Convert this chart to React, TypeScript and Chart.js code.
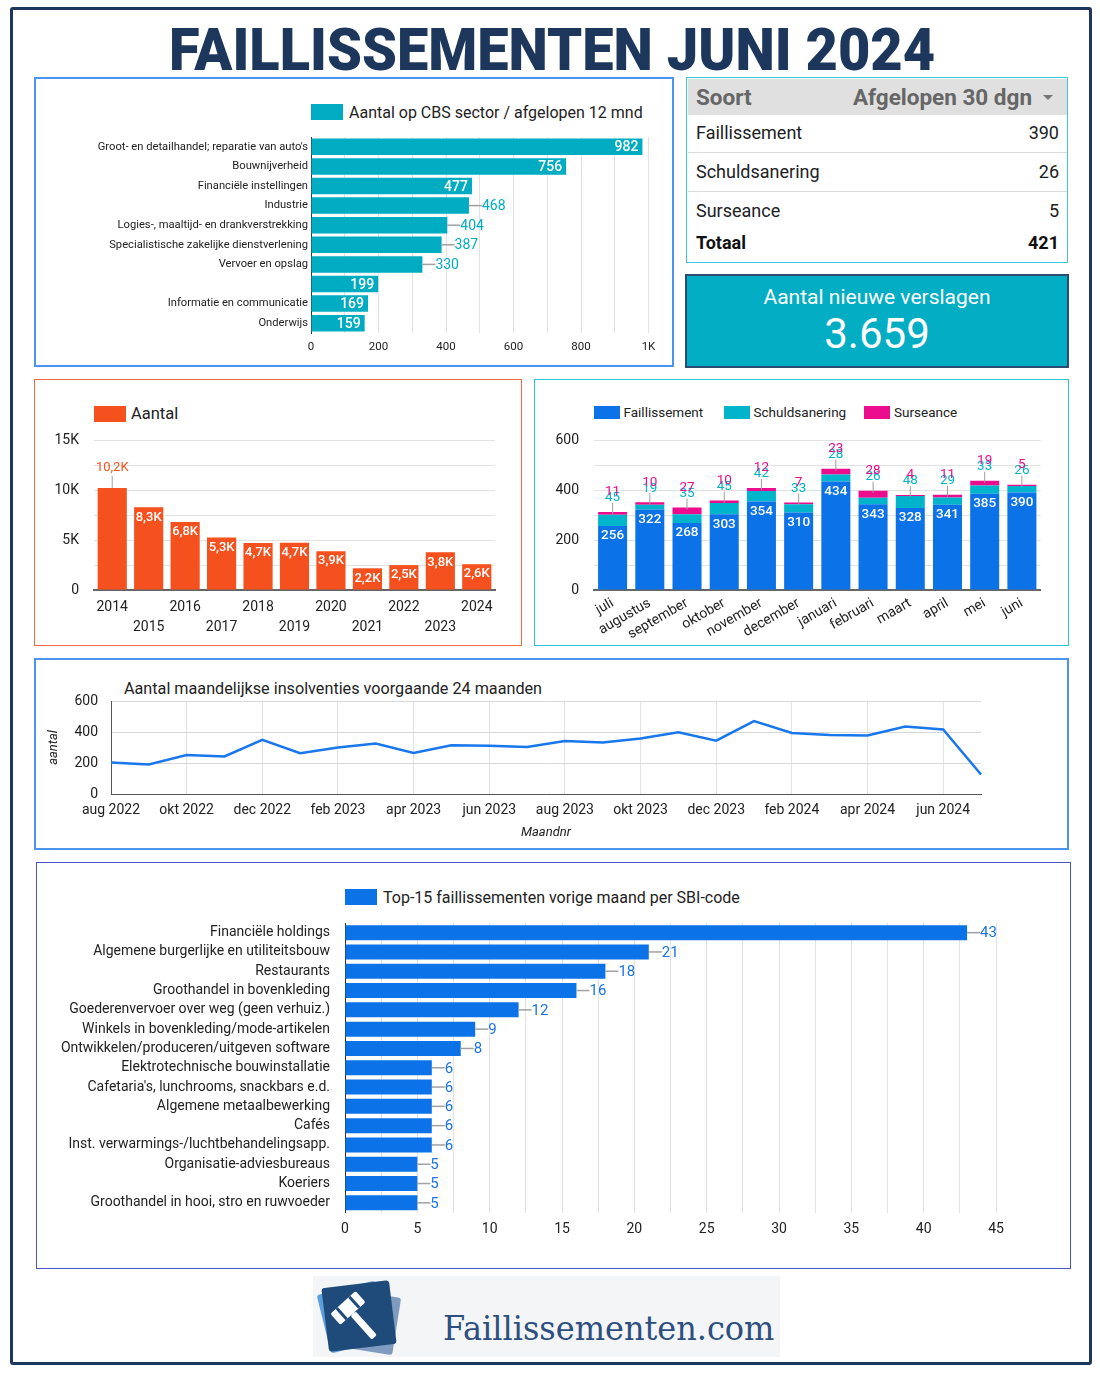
import React, { useEffect, useRef } from 'react';
import { Chart, registerables } from 'chart.js';

Chart.register(...registerables);

const FONT = 'Roboto, "Noto Sans", "DejaVu Sans", sans-serif';
Chart.defaults.font.family = FONT;

// ---------- DATA ----------
const cbsSeriesName = 'Aantal op CBS sector / afgelopen 12 mnd';
const cbsSectors = [
  "Groot- en detailhandel; reparatie van auto's",
  'Bouwnijverheid',
  'Financiële instellingen',
  'Industrie',
  'Logies-, maaltijd- en drankverstrekking',
  'Specialistische zakelijke dienstverlening',
  'Vervoer en opslag',
  '',
  'Informatie en communicatie',
  'Onderwijs',
];
const cbsCounts = [982, 756, 477, 468, 404, 387, 330, 199, 169, 159];

const yearSeriesName = 'Aantal';
const years = ['2014', '2015', '2016', '2017', '2018', '2019', '2020', '2021', '2022', '2023', '2024'];
const yearCounts = [10210, 8270, 6800, 5260, 4690, 4720, 3880, 2170, 2490, 3770, 2580];

const months = ['juli', 'augustus', 'september', 'oktober', 'november', 'december', 'januari', 'februari', 'maart', 'april', 'mei', 'juni'];
const faillissement = [256, 322, 268, 303, 354, 310, 434, 343, 328, 341, 385, 390];
const schuldsanering = [45, 19, 35, 45, 42, 33, 28, 26, 48, 29, 33, 26];
const surseance = [11, 10, 27, 10, 12, 7, 23, 28, 4, 11, 19, 5];

const trendTitle = 'Aantal maandelijkse insolventies voorgaande 24 maanden';
const trendMonths = [
  'aug 2022', 'sep 2022', 'okt 2022', 'nov 2022', 'dec 2022', 'jan 2023', 'feb 2023', 'mrt 2023',
  'apr 2023', 'mei 2023', 'jun 2023', 'jul 2023', 'aug 2023', 'sep 2023', 'okt 2023', 'nov 2023',
  'dec 2023', 'jan 2024', 'feb 2024', 'mrt 2024', 'apr 2024', 'mei 2024', 'jun 2024', 'jul 2024',
];
const trendCounts = [203, 190, 251, 242, 350, 263, 300, 326, 265, 315, 311, 304, 342, 333, 358, 398, 344, 470, 394, 381, 378, 435, 416, 126];

const sbiSeriesName = 'Top-15 faillissementen vorige maand per SBI-code';
const sbiNames = [
  'Financiële holdings',
  'Algemene burgerlijke en utiliteitsbouw',
  'Restaurants',
  'Groothandel in bovenkleding',
  'Goederenvervoer over weg (geen verhuiz.)',
  'Winkels in bovenkleding/mode-artikelen',
  'Ontwikkelen/produceren/uitgeven software',
  'Elektrotechnische bouwinstallatie',
  "Cafetaria's, lunchrooms, snackbars e.d.",
  'Algemene metaalbewerking',
  'Cafés',
  'Inst. verwarmings-/luchtbehandelingsapp.',
  'Organisatie-adviesbureaus',
  'Koeriers',
  'Groothandel in hooi, stro en ruwvoeder',
];
const sbiCounts = [43, 21, 18, 16, 12, 9, 8, 6, 6, 6, 6, 6, 5, 5, 5];

const tableTypes = ['Faillissement', 'Schuldsanering', 'Surseance'];
const tableCounts = [390, 26, 5];
const tableTotal = 421;
const newReports = '3.659';

// ---------- STYLE (label placement choices, not data) ----------
const cbsLabelInside = [true, true, true, false, false, false, false, true, true, true];
const yearLabelInside = [false, true, true, true, true, true, true, true, true, true, true];

const C_TEAL = '#00acc1';
const C_ORANGE = '#f4511e';
const C_BLUE = '#0b72e8';
const C_SCHULD = '#00b4cc';
const C_PINK = '#ec0c8e';
const C_LINE = '#1877ec';
const C_NAVY = '#1c365c';
const GRID = '#e2e2e2';
const TICK = '#222';

const fmtK = (v: number) => (v / 1000).toFixed(1).replace('.', ',') + 'K';

function valueLabels(o: {
  values: number[];
  inside: boolean[];
  outColor: string;
  inFont: string;
  outFont: string;
  horizontal: boolean;
  format?: (v: number) => string;
}) {
  return {
    id: 'valueLabels',
    afterDatasetsDraw(chart: any) {
      const ctx = chart.ctx;
      const meta = chart.getDatasetMeta(0);
      ctx.save();
      ctx.textBaseline = 'middle';
      meta.data.forEach((el: any, i: number) => {
        const txt = o.format ? o.format(o.values[i]) : String(o.values[i]);
        if (o.horizontal) {
          if (o.inside[i]) {
            ctx.font = o.inFont;
            ctx.fillStyle = '#fff';
            ctx.textAlign = 'right';
            ctx.fillText(txt, el.x - 4, el.y + 1);
          } else {
            ctx.strokeStyle = '#a0a0a0';
            ctx.lineWidth = 1.5;
            ctx.beginPath();
            ctx.moveTo(el.x, el.y);
            ctx.lineTo(el.x + 13, el.y);
            ctx.stroke();
            ctx.font = o.outFont;
            ctx.fillStyle = o.outColor;
            ctx.textAlign = 'left';
            ctx.fillText(txt, el.x + 13, el.y + 1);
          }
        } else {
          ctx.textAlign = 'center';
          if (o.inside[i]) {
            ctx.font = o.inFont;
            ctx.fillStyle = '#fff';
            ctx.fillText(txt, el.x, el.y + 10);
          } else {
            ctx.strokeStyle = '#a0a0a0';
            ctx.lineWidth = 1;
            ctx.beginPath();
            ctx.moveTo(el.x, el.y);
            ctx.lineTo(el.x, el.y - 12);
            ctx.stroke();
            ctx.font = o.outFont;
            ctx.fillStyle = o.outColor;
            ctx.fillText(txt, el.x, el.y - 20);
          }
        }
      });
      ctx.restore();
    },
  };
}

const stackLabels = {
  id: 'stackLabels',
  afterDatasetsDraw(chart: any) {
    const ctx = chart.ctx;
    const m0 = chart.getDatasetMeta(0);
    const m2 = chart.getDatasetMeta(2);
    ctx.save();
    ctx.textAlign = 'center';
    ctx.textBaseline = 'middle';
    m0.data.forEach((bar: any, i: number) => {
      const top = m2.data[i].y;
      ctx.font = '500 13.5px ' + FONT;
      ctx.fillStyle = '#fff';
      ctx.fillText(String(faillissement[i]), bar.x, bar.y + 10);
      ctx.strokeStyle = '#9e9e9e';
      ctx.lineWidth = 1;
      ctx.beginPath();
      ctx.moveTo(bar.x, top + 2);
      ctx.lineTo(bar.x, top - 9);
      ctx.stroke();
      ctx.font = '13.5px ' + FONT;
      ctx.fillStyle = C_SCHULD;
      ctx.fillText(String(schuldsanering[i]), bar.x, top - 14);
      ctx.fillStyle = C_PINK;
      ctx.fillText(String(surseance[i]), bar.x, top - 20);
    });
    ctx.restore();
  },
};

const noPlugins = { legend: { display: false }, tooltip: { enabled: false }, title: { display: false } };

function makeCbs(): any {
  return {
    type: 'bar',
    data: {
      labels: cbsSectors,
      datasets: [{ label: cbsSeriesName, data: cbsCounts, backgroundColor: C_TEAL, barPercentage: 0.84, categoryPercentage: 1 }],
    },
    options: {
      indexAxis: 'y',
      responsive: false,
      animation: false,
      layout: { padding: { top: 57, right: 23.5, bottom: 2, left: 0 } },
      plugins: noPlugins,
      scales: {
        x: {
          type: 'linear', min: 0, max: 1000,
          afterFit: (s: any) => { s.height = 30; },
          ticks: { stepSize: 100, autoSkip: false, maxRotation: 0, padding: 7, color: TICK, font: { size: 11.5 },
            callback: (v: any) => (v % 200 === 0 ? (v === 1000 ? '1K' : String(v)) : '') },
          grid: { color: GRID, drawTicks: false },
          border: { display: false },
        },
        y: {
          afterFit: (s: any) => { s.width = 275; },
          ticks: { autoSkip: false, padding: 3, color: TICK, font: { size: 11.2 } },
          grid: { display: false, drawTicks: false },
          border: { display: true, color: '#333', width: 1 },
        },
      },
    },
    plugins: [valueLabels({ values: cbsCounts, inside: cbsLabelInside, outColor: C_TEAL, inFont: '500 14px ' + FONT, outFont: '14px ' + FONT, horizontal: true })],
  };
}

function makeYears(): any {
  return {
    type: 'bar',
    data: {
      labels: years,
      datasets: [{ label: yearSeriesName, data: yearCounts, backgroundColor: C_ORANGE, barPercentage: 0.8, categoryPercentage: 1 }],
    },
    options: {
      responsive: false,
      animation: false,
      layout: { padding: { top: 58, left: 8, right: 25, bottom: 5 } },
      plugins: noPlugins,
      scales: {
        x: {
          afterFit: (s: any) => { s.height = 50; },
          ticks: { autoSkip: false, maxRotation: 0, minRotation: 0, padding: 7, color: TICK, font: { size: 14, lineHeight: 1.45 },
            callback: (_v: any, i: number) => (i % 2 ? ['', years[i]] : years[i]) },
          grid: { display: false, drawTicks: false },
          border: { color: '#666', width: 2 },
        },
        y: {
          min: 0, max: 15000,
          afterFit: (s: any) => { s.width = 50; },
          ticks: { stepSize: 2500, padding: 15, color: TICK, font: { size: 14 },
            callback: (v: any) => (v % 5000 === 0 ? (v === 0 ? '0' : v / 1000 + 'K') : '') },
          grid: { color: GRID, drawTicks: false },
          border: { display: false },
        },
      },
    },
    plugins: [valueLabels({ values: yearCounts, inside: yearLabelInside, outColor: C_ORANGE, inFont: '500 13px ' + FONT, outFont: '13px ' + FONT, horizontal: false, format: fmtK })],
  };
}

function makeStacked(): any {
  return {
    type: 'bar',
    data: {
      labels: months,
      datasets: [
        { label: 'Faillissement', data: faillissement, backgroundColor: C_BLUE, barPercentage: 0.78, categoryPercentage: 1 },
        { label: 'Schuldsanering', data: schuldsanering, backgroundColor: C_SCHULD, barPercentage: 0.78, categoryPercentage: 1 },
        { label: 'Surseance', data: surseance, backgroundColor: C_PINK, barPercentage: 0.78, categoryPercentage: 1 },
      ],
    },
    options: {
      responsive: false,
      animation: false,
      layout: { padding: { top: 58, left: 8, right: 27.5, bottom: 5 } },
      plugins: noPlugins,
      scales: {
        x: {
          stacked: true,
          afterFit: (s: any) => { s.height = 50; },
          ticks: { autoSkip: false, maxRotation: 30, minRotation: 30, padding: 5, color: TICK, font: { size: 14 } },
          grid: { display: false, drawTicks: false },
          border: { color: '#666', width: 2 },
        },
        y: {
          stacked: true, min: 0, max: 600,
          afterFit: (s: any) => { s.width = 50; },
          ticks: { stepSize: 100, padding: 15, color: TICK, font: { size: 14 },
            callback: (v: any) => (v % 200 === 0 ? String(v) : '') },
          grid: { color: GRID, drawTicks: false },
          border: { display: false },
        },
      },
    },
    plugins: [stackLabels],
  };
}

function makeTrend(): any {
  return {
    type: 'line',
    data: {
      labels: trendMonths,
      datasets: [{ label: 'aantal', data: trendCounts, borderColor: C_LINE, borderWidth: 2.5, pointRadius: 0, tension: 0, fill: false }],
    },
    options: {
      responsive: false,
      animation: false,
      layout: { padding: { top: 40, left: 10, right: 86, bottom: 4 } },
      plugins: noPlugins,
      scales: {
        x: {
          offset: false,
          afterFit: (s: any) => { s.height = 50; },
          ticks: { autoSkip: false, maxRotation: 0, minRotation: 0, padding: 8, color: TICK, font: { size: 14 },
            callback: (_v: any, i: number) => (i % 2 === 0 ? trendMonths[i] : null) },
          grid: { color: GRID, drawTicks: false },
          border: { color: '#555', width: 1 },
          title: { display: true, text: 'Maandnr', color: TICK, font: { size: 13, style: 'italic' }, padding: { top: 2, bottom: 3 } },
        },
        y: {
          min: 0, max: 600,
          afterFit: (s: any) => { s.width = 65; },
          ticks: { stepSize: 100, padding: 13, color: TICK, font: { size: 14 },
            callback: (v: any) => (v % 200 === 0 ? String(v) : '') },
          grid: { color: (c: any) => (c.tick && c.tick.value % 200 === 0 ? '#d8d8d8' : '#e8e8e8'), drawTicks: false },
          border: { color: '#555', width: 1 },
          title: { display: true, text: 'aantal', color: TICK, font: { size: 13, style: 'italic' }, padding: { top: 0, bottom: 0 } },
        },
      },
    },
  };
}

function makeSbi(): any {
  return {
    type: 'bar',
    data: {
      labels: sbiNames,
      datasets: [{ label: sbiSeriesName, data: sbiCounts, backgroundColor: C_BLUE, barPercentage: 0.775, categoryPercentage: 1 }],
    },
    options: {
      indexAxis: 'y',
      responsive: false,
      animation: false,
      layout: { padding: { top: 57, left: 7, right: 73, bottom: 24.5 } },
      plugins: noPlugins,
      scales: {
        x: {
          type: 'linear', min: 0, max: 45,
          afterFit: (s: any) => { s.height = 30; },
          ticks: { stepSize: 2.5, autoSkip: false, maxRotation: 0, padding: 9, color: TICK, font: { size: 14 },
            callback: (v: any) => (v % 5 === 0 ? String(v) : '') },
          grid: { color: GRID, drawTicks: false },
          border: { display: false },
        },
        y: {
          afterFit: (s: any) => { s.width = 300; },
          ticks: { autoSkip: false, padding: 15, color: TICK, font: { size: 14 } },
          grid: { display: false, drawTicks: false },
          border: { display: true, color: '#333', width: 1 },
        },
      },
    },
    plugins: [valueLabels({ values: sbiCounts, inside: sbiCounts.map(() => false), outColor: '#1a73e8', inFont: '15px ' + FONT, outFont: '15px ' + FONT, horizontal: true })],
  };
}

// ---------- COMPONENTS ----------
function ChartCanvas({ left, top, width, height, make }: { left: number; top: number; width: number; height: number; make: () => any }) {
  const ref = useRef<HTMLCanvasElement>(null);
  useEffect(() => {
    const chart = new Chart(ref.current as HTMLCanvasElement, make());
    return () => chart.destroy();
  }, []);
  return (
    <canvas
      ref={ref}
      width={width}
      height={height}
      style={{ position: 'absolute', left, top, width, height }}
    />
  );
}

function Box({ l, t, w, h, border, bg, radius }: { l: number; t: number; w: number; h: number; border?: string; bg?: string; radius?: number }) {
  return (
    <div style={{ position: 'absolute', left: l, top: t, width: w, height: h, border, background: bg, boxSizing: 'border-box', borderRadius: radius }} />
  );
}

// text positioned by baseline
function Txt({ x, base, size, children, weight, color, right, italic, center, w }: any) {
  const style: any = {
    position: 'absolute',
    top: base - 0.842 * size,
    fontSize: size,
    lineHeight: size + 'px',
    fontWeight: weight || 400,
    color: color || '#222',
    whiteSpace: 'nowrap',
    fontStyle: italic ? 'italic' : 'normal',
  };
  if (center) {
    style.left = x;
    style.width = w;
    style.textAlign = 'center';
  } else if (right) {
    style.right = 1100 - x;
    style.textAlign = 'right';
  } else {
    style.left = x;
  }
  return <div style={style}>{children}</div>;
}

function Swatch({ l, t, w, h, color }: any) {
  return <div style={{ position: 'absolute', left: l, top: t, width: w, height: h, background: color }} />;
}

function Logo() {
  return (
    <svg style={{ position: 'absolute', left: 313, top: 1276 }} width={467} height={81} viewBox="0 0 467 81">
      <rect x={0} y={0} width={467} height={81} fill="#f4f5f6" />
      <g transform="translate(40 41) rotate(-14)">
        <rect x={-30} y={-30} width={60} height={60} rx={3} fill="#5b9fdc" />
      </g>
      <g transform="translate(55 46) rotate(9)">
        <rect x={-29} y={-29} width={58} height={58} rx={3} fill="#7f9cc0" />
      </g>
      <g transform="translate(46 40) rotate(-7)">
        <rect x={-34} y={-32} width={68} height={64} rx={3} fill="#1f4b7a" />
      </g>
      <g transform="translate(44 42) rotate(-42)">
        <rect x={-17} y={-21} width={34} height={15} rx={2} fill="#ffffff" />
        <rect x={-10} y={-21} width={3} height={15} fill="#1f4b7a" />
        <rect x={7} y={-21} width={3} height={15} fill="#1f4b7a" />
        <rect x={-3.5} y={-6} width={7} height={32} rx={2} fill="#ffffff" />
      </g>
    </svg>
  );
}

export default function App() {
  return (
    <div style={{ position: 'absolute', left: 0, top: 0, width: 1100, height: 1374, background: '#fff', fontFamily: FONT, overflow: 'hidden' }}>
      {/* outer frame */}
      <Box l={10} t={7} w={1082} h={1358} border={'3px solid ' + C_NAVY} radius={3} />

      {/* title */}
      <div style={{ position: 'absolute', left: 0, top: 20.3, width: 1100, textAlign: 'center', fontSize: 59, lineHeight: '59px', fontWeight: 900, color: C_NAVY, whiteSpace: 'nowrap' }}>
        <span style={{ display: 'inline-block', transform: 'translateX(2px) scaleX(0.948)', transformOrigin: 'center' }}>FAILLISSEMENTEN JUNI 2024</span>
      </div>

      {/* panels */}
      <Box l={34} t={77} w={640} h={290} border="2px solid #4d94f0" />
      <Box l={686} t={77} w={382} h={186} border="1.5px solid #3cc8da" />
      <Box l={685} t={274} w={384} h={94} border="2px solid #2b4c70" bg="#03adc3" />
      <Box l={34} t={379} w={488} h={267} border="1.5px solid #f26a43" />
      <Box l={534} t={379} w={535} h={267} border="1.5px solid #2cc5d8" />
      <Box l={34} t={658} w={1035} h={192} border="2px solid #4d94f0" />
      <Box l={36} t={862} w={1035} h={407} border="1.5px solid #4b55c8" />

      {/* CBS chart */}
      <Swatch l={311} t={104} w={32} h={16} color={C_TEAL} />
      <Txt x={349} base={118} size={16}>{cbsSeriesName}</Txt>
      <ChartCanvas left={36} top={80} width={636} height={285} make={makeCbs} />

      {/* table */}
      <div style={{ position: 'absolute', left: 687.5, top: 78.5, width: 379, height: 36.5, background: '#e0e0e0' }} />
      <div style={{ position: 'absolute', left: 687.5, top: 152, width: 379, height: 1, background: '#dadada' }} />
      <div style={{ position: 'absolute', left: 687.5, top: 190.5, width: 379, height: 1, background: '#dadada' }} />
      <Txt x={696} base={105} size={22.5} weight={700} color="#666">Soort</Txt>
      <Txt x={1032} base={105} size={22.5} weight={700} color="#666" right>Afgelopen 30 dgn</Txt>
      <div style={{ position: 'absolute', left: 1043, top: 95, width: 0, height: 0, borderLeft: '5px solid transparent', borderRight: '5px solid transparent', borderTop: '5px solid #777' }} />
      {tableTypes.map((t, i) => (
        <React.Fragment key={t}>
          <Txt x={696} base={[139.3, 178.3, 216.7][i]} size={18} color="#202124">{t}</Txt>
          <Txt x={1059} base={[139.3, 178.3, 216.7][i]} size={18} color="#202124" right>{String(tableCounts[i])}</Txt>
        </React.Fragment>
      ))}
      <Txt x={696} base={249} size={18} weight={700} color="#111">Totaal</Txt>
      <Txt x={1059} base={249} size={18} weight={700} color="#111" right>{String(tableTotal)}</Txt>

      {/* teal KPI */}
      <Txt x={685} w={384} center base={305} size={21} color="#fff">Aantal nieuwe verslagen</Txt>
      <Txt x={685} w={384} center base={348.3} size={42} color="#fff">{newReports}</Txt>

      {/* yearly chart */}
      <Swatch l={93.5} t={406} w={32} h={16} color={C_ORANGE} />
      <Txt x={131} base={419.5} size={16.5}>{yearSeriesName}</Txt>
      <ChartCanvas left={36} top={382} width={484} height={263} make={makeYears} />

      {/* stacked chart */}
      <Swatch l={593.5} t={406} w={26} h={12.5} color={C_BLUE} />
      <Txt x={623.5} base={417.3} size={13.5}>Faillissement</Txt>
      <Swatch l={723.5} t={406} w={26} h={12.5} color={C_SCHULD} />
      <Txt x={753.5} base={417.3} size={13.5}>Schuldsanering</Txt>
      <Swatch l={864} t={406} w={26} h={12.5} color={C_PINK} />
      <Txt x={894} base={417.3} size={13.5}>Surseance</Txt>
      <ChartCanvas left={536} top={382} width={532} height={263} make={makeStacked} />

      {/* trend line chart */}
      <Txt x={124} base={694.5} size={16.2}>{trendTitle}</Txt>
      <ChartCanvas left={36} top={661} width={1031} height={187} make={makeTrend} />

      {/* SBI chart */}
      <Swatch l={345} t={889} w={32} h={16} color={C_BLUE} />
      <Txt x={383} base={903} size={16}>{sbiSeriesName}</Txt>
      <ChartCanvas left={38} top={866} width={1031} height={401} make={makeSbi} />

      {/* logo */}
      <Logo />
      <div style={{ position: 'absolute', left: 443, top: 1338 - 0.8 * 34, fontSize: 34, lineHeight: '34px', fontFamily: '"DejaVu Serif", serif', color: '#2c4f7f', whiteSpace: 'nowrap', transform: 'scaleX(0.94)', transformOrigin: 'left center' }}>
        Faillissementen.com
      </div>
    </div>
  );
}
